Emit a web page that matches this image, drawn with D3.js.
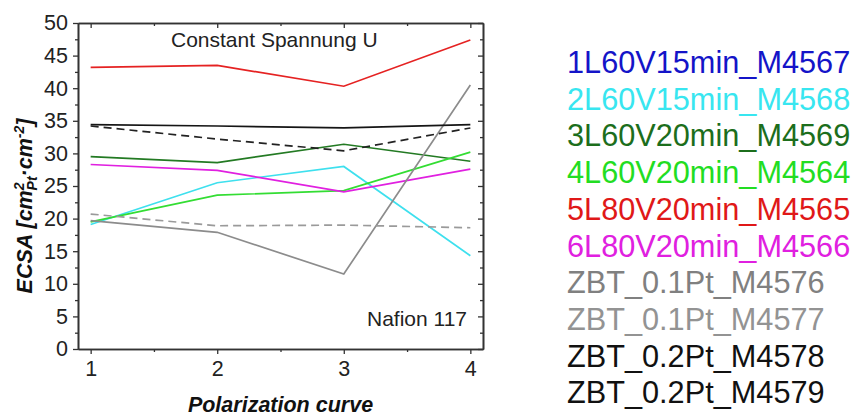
<!DOCTYPE html>
<html>
<head>
<meta charset="utf-8">
<script src="https://cdn.jsdelivr.net/npm/d3@7"></script>
<style>
  body { margin: 0; background: #fff; }
  svg { display: block; font-family: "Liberation Sans", Arial, sans-serif; }
</style>
</head>
<body>
<svg id="chart" width="854" height="419"></svg>
<script>
// polarization curve index
const curves = [1, 2, 3, 4]

// ECSA values per sample (cm2 Pt / cm2)
const m4567 = []                          // 1L60V15min, not visible in plot
const m4568 = [19.1, 25.5, 28.0, 14.3]   // 2L60V15min
const m4569 = [29.5, 28.6, 31.4, 28.8]   // 3L60V20min
const m4564 = [19.5, 23.6, 24.3, 30.2]   // 4L60V20min
const m4565 = [43.2, 43.5, 40.3, 47.4]   // 5L80V20min
const m4566 = [28.3, 27.4, 24.1, 27.6]   // 6L80V20min
const m4576 = [19.7, 17.9, 11.5, 40.5]   // ZBT_0.1Pt
const m4577 = [20.7, 18.9, 19.0, 18.6]   // ZBT_0.1Pt (dashed)
const m4578 = [34.4, 34.2, 33.9, 34.4]   // ZBT_0.2Pt
const m4579 = [34.2, 32.2, 30.4, 33.9]   // ZBT_0.2Pt (dashed)

const yTicks = [0, 5, 10, 15, 20, 25, 30, 35, 40, 45, 50]

const series = [
    { name: '1L60V15min_M4567', values: m4567, color: '#1414c8', text: '#1414c8', dash: null },
    { name: '2L60V15min_M4568', values: m4568, color: '#3ee0ee', text: '#38e6f0', dash: null },
    { name: '3L60V20min_M4569', values: m4569, color: '#237a23', text: '#1c6e1c', dash: null },
    { name: '4L60V20min_M4564', values: m4564, color: '#33dd33', text: '#22dd22', dash: null },
    { name: '5L80V20min_M4565', values: m4565, color: '#e52222', text: '#e01818', dash: null },
    { name: '6L80V20min_M4566', values: m4566, color: '#e020e0', text: '#e020e0', dash: null },
    { name: 'ZBT_0.1Pt_M4576', values: m4576, color: '#8c8c8c', text: '#808080', dash: null },
    { name: 'ZBT_0.1Pt_M4577', values: m4577, color: '#9a9a9a', text: '#939393', dash: '8,5' },
    { name: 'ZBT_0.2Pt_M4578', values: m4578, color: '#151515', text: '#111', dash: null },
    { name: 'ZBT_0.2Pt_M4579', values: m4579, color: '#222', text: '#111', dash: '8,5' },
]

const margin = { top: 23, left: 78 }
const width = 405
const height = 326

const svg = d3.select('#chart')
const g = svg.append('g').attr('transform', `translate(${margin.left},${margin.top})`)

const xScale = d3.scaleLinear().domain([0.9, 4.1]).range([0, width])
const yScale = d3.scaleLinear().domain([0, 50]).range([height, 0])

const xMinor = d3.range(1.5, 4, 1)
const yMinor = d3.range(2.5, 50, 5)

// lines
const line = d3.line()
    .x((d, i) => xScale(curves[i]))
    .y(d => yScale(d))

series.filter(s => s.values.length).forEach(s => {
    g.append('path')
        .attr('d', line(s.values))
        .attr('fill', 'none')
        .attr('stroke', s.color)
        .attr('stroke-width', 1.7)
        .attr('stroke-dasharray', s.dash)
})

// axes: left/bottom outward ticks, top/right inward ticks
function styleAxis(sel) {
    sel.select('.domain').attr('stroke', '#333').attr('stroke-width', 1.6)
    sel.selectAll('.tick line').attr('stroke', '#333').attr('stroke-width', 1.3)
    sel.selectAll('.tick text')
        .attr('font-size', 21.5)
        .attr('fill', '#222')
        .attr('font-family', '"Liberation Sans", Arial, sans-serif')
}

g.append('g').attr('transform', `translate(0,${height})`)
    .call(d3.axisBottom(xScale).tickValues(xMinor).tickSize(3).tickSizeOuter(0).tickFormat(''))
    .call(styleAxis)
g.append('g').attr('transform', `translate(0,${height})`)
    .call(d3.axisBottom(xScale).tickValues(curves).tickSize(5).tickSizeOuter(0).tickPadding(7).tickFormat(d3.format('d')))
    .call(styleAxis)

g.append('g')
    .call(d3.axisLeft(yScale).tickValues(yMinor).tickSize(3).tickSizeOuter(0).tickFormat(''))
    .call(styleAxis)
g.append('g')
    .call(d3.axisLeft(yScale).tickValues(yTicks).tickSize(5).tickSizeOuter(0).tickPadding(5))
    .call(styleAxis)

g.append('g')
    .call(d3.axisBottom(xScale).tickValues(xMinor).tickSize(3).tickSizeOuter(0).tickFormat(''))
    .call(styleAxis)
g.append('g')
    .call(d3.axisBottom(xScale).tickValues(curves).tickSize(5).tickSizeOuter(0).tickFormat(''))
    .call(styleAxis)

g.append('g').attr('transform', `translate(${width},0)`)
    .call(d3.axisLeft(yScale).tickValues(yMinor).tickSize(3).tickSizeOuter(0).tickFormat(''))
    .call(styleAxis)
g.append('g').attr('transform', `translate(${width},0)`)
    .call(d3.axisLeft(yScale).tickValues(yTicks).tickSize(5).tickSizeOuter(0).tickFormat(''))
    .call(styleAxis)

// annotations
g.append('text')
    .attr('x', 93).attr('y', 24)
    .attr('font-size', 21).attr('fill', '#222')
    .text('Constant Spannung U')

g.append('text')
    .attr('x', width - 16).attr('y', 303)
    .attr('text-anchor', 'end')
    .attr('font-size', 21).attr('fill', '#222')
    .text('Nafion 117')

// axis titles
svg.append('text')
    .attr('x', margin.left + width / 2).attr('y', 412)
    .attr('text-anchor', 'middle')
    .attr('font-size', 21.5).attr('font-weight', 'bold').attr('font-style', 'italic')
    .attr('fill', '#111')
    .text('Polarization curve')

const yTitle = svg.append('text')
    .attr('transform', 'translate(32,206) rotate(-90)')
    .attr('text-anchor', 'middle')
    .attr('font-size', 21.5).attr('font-weight', 'bold').attr('font-style', 'italic')
    .attr('fill', '#111')
yTitle.append('tspan').text('ECSA [cm')
yTitle.append('tspan').attr('font-size', 14).attr('dy', -8).text('2')
yTitle.append('tspan').attr('font-size', 14).attr('dx', -8).attr('dy', 13).text('Pt')
yTitle.append('tspan').attr('dy', -5).text('\u00b7cm')
yTitle.append('tspan').attr('font-size', 14).attr('dy', -8).text('-2')
yTitle.append('tspan').attr('dy', 8).text(']')

// legend
const legend = svg.append('g').attr('transform', 'translate(567,73)')
legend.selectAll('text')
    .data(series)
    .join('text')
    .attr('x', 0)
    .attr('y', (d, i) => i * 36.7)
    .attr('font-size', 30.7)
    .attr('fill', d => d.text)
    .text(d => d.name)
</script>
</body>
</html>
